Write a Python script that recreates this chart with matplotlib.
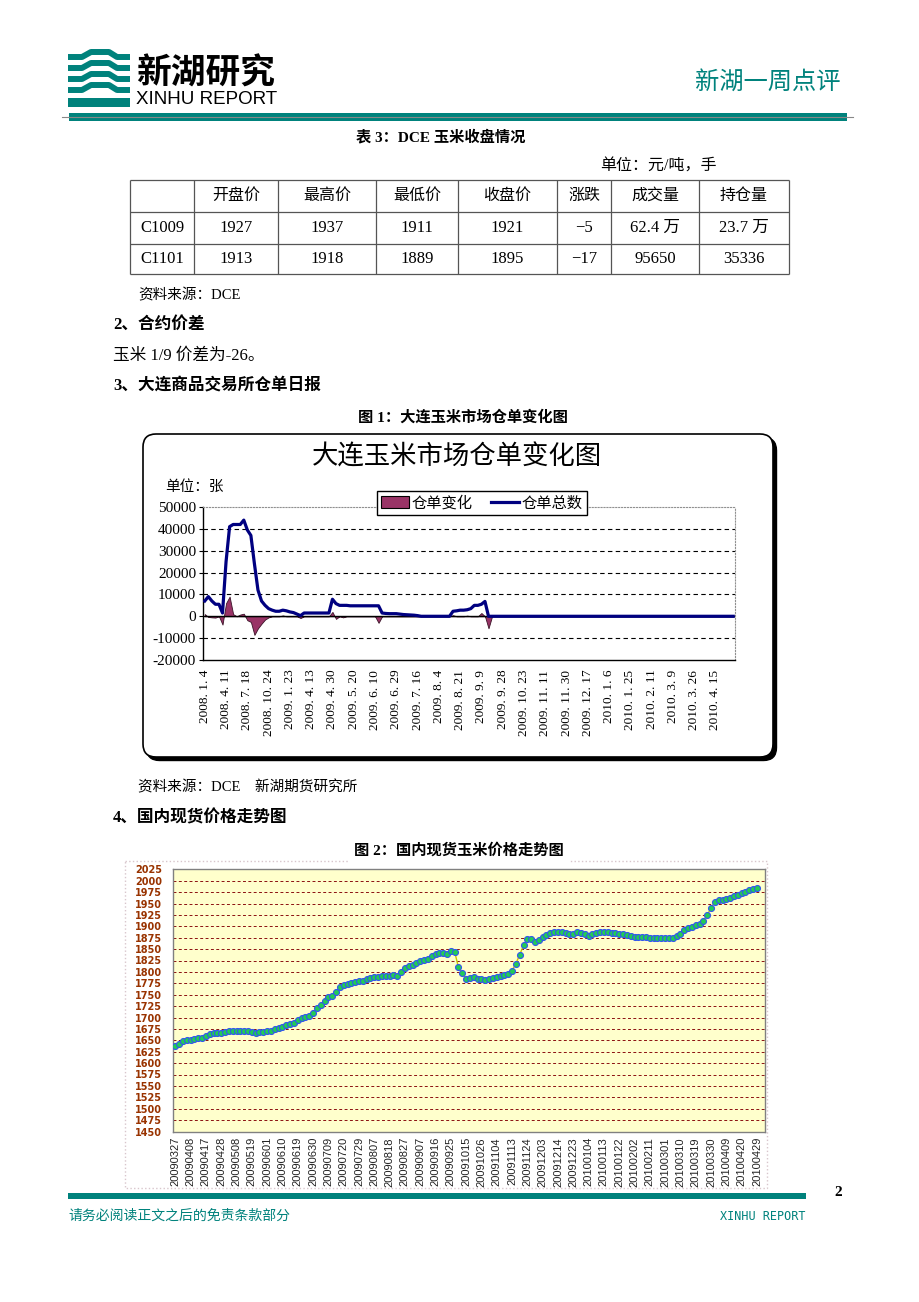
import numpy as np
import matplotlib
matplotlib.use("Agg")
import matplotlib.pyplot as plt
from matplotlib.patches import Rectangle, FancyBboxPatch, Patch
from matplotlib.lines import Line2D

plt.rcParams['font.family'] = ['Liberation Serif', 'Noto Sans CJK SC', 'DejaVu Sans']
plt.rcParams['axes.unicode_minus'] = False

TEAL = '#00827c'

# 表3 DCE 玉米收盘情况
table_header = ["开盘价", "最高价", "最低价", "收盘价", "涨跌", "成交量", "持仓量"]
table_names = ["C1009", "C1101"]
table_c1009 = ["1927", "1937", "1911", "1921", "−5", "62.4 万", "23.7 万"]
table_c1101 = ["1913", "1918", "1889", "1895", "−17", "95650", "35336"]

# 图1 大连玉米仓单 (每个刻度标签间隔 6 个点)
receipt_dates = ["2008. 1. 4", "2008. 4. 11", "2008. 7. 18", "2008. 10. 24", "2009. 1. 23",
                 "2009. 4. 13", "2009. 4. 30", "2009. 5. 20", "2009. 6. 10", "2009. 6. 29",
                 "2009. 7. 16", "2009. 8. 4", "2009. 8. 21", "2009. 9. 9", "2009. 9. 28",
                 "2009. 10. 23", "2009. 11. 11", "2009. 11. 30", "2009. 12. 17", "2010. 1. 6",
                 "2010. 1. 25", "2010. 2. 11", "2010. 3. 9", "2010. 3. 26", "2010. 4. 15"]
receipt_total = [
    7000, 9000, 7000, 5500, 5500, 1500, 25000, 41000, 42000, 42000,
    42000, 44000, 39500, 37000, 24000, 12000, 7000, 5000, 3500, 2800,
    2300, 2300, 2800, 2500, 2000, 1700, 1000, 300, 1500, 1500,
    1500, 1500, 1500, 1500, 1500, 1500, 7800, 5800, 5000, 5000,
    5000, 4800, 4800, 4800, 4800, 4800, 4800, 4800, 4800, 4800,
    1500, 1300, 1200, 1200, 1200, 1000, 800, 700, 600, 500,
    300, 0, 0, 0, 0, 0, 0, 0, 0, 0,
    2300, 2500, 2800, 2800, 3000, 3500, 5000, 5000, 5500, 6800,
    0, 0, 0, 0, 0, 0, 0, 0, 0, 0,
    0, 0, 0, 0, 0, 0, 0, 0, 0, 0,
    0, 0, 0, 0, 0, 0, 0, 0, 0, 0,
    0, 0, 0, 0, 0, 0, 0, 0, 0, 0,
    0, 0, 0, 0, 0, 0, 0, 0, 0, 0,
    0, 0, 0, 0, 0, 0, 0, 0, 0, 0,
    0, 0, 0, 0, 0, 0, 0, 0, 0, 0,
]
receipt_change = [
    1000, -300, -500, -600, 0, -3800, 6000, 9000, 1000, 0,
    800, 1200, -1800, -2600, -8500, -5500, -3400, -1500, -500, 0,
    0, 0, 400, 0, 0, 0, 0, -800, 0, 0,
    0, 0, 0, 0, 0, 0, 2000, -1200, 0, -500,
    0, 0, 0, 0, 0, 0, 0, 0, 0, -3000,
    0, 0, 0, 0, 0, 0, 0, 0, 0, 0,
    0, 0, 0, 0, 0, 0, 0, 0, 0, 0,
    500, 0, 0, 0, 300, 0, 0, 0, 1500, 0,
    -5500, 0, 0, 0, 0, 0, 0, 0, 0, 0,
    0, 0, 0, 0, 0, 0, 0, 0, 0, 0,
    0, 0, 0, 0, 0, 0, 0, 0, 0, 0,
    0, 0, 0, 0, 0, 0, 0, 0, 0, 0,
    0, 0, 0, 0, 0, 0, 0, 0, 0, 0,
    0, 0, 0, 0, 0, 0, 0, 0, 0, 0,
    0, 0, 0, 0, 0, 0, 0, 0, 0, 0,
]

# 图2 国内现货玉米价格 (每个刻度标签间隔 4 个点)
spot_dates = ["20090327", "20090408", "20090417", "20090428", "20090508", "20090519",
              "20090601", "20090610", "20090619", "20090630", "20090709", "20090720",
              "20090729", "20090807", "20090818", "20090827", "20090907", "20090916",
              "20090925", "20091015", "20091026", "20091104", "20091113", "20091124",
              "20091203", "20091214", "20091223", "20100104", "20100113", "20100122",
              "20100202", "20100211", "20100301", "20100310", "20100319", "20100330",
              "20100409", "20100420", "20100429"]
spot_price = [
    1637, 1641, 1648, 1650, 1651, 1653, 1654, 1656, 1660, 1664,
    1665, 1666, 1667, 1668, 1670, 1671, 1671, 1670, 1671, 1670,
    1668, 1667, 1668, 1669, 1670, 1671, 1675, 1678, 1680, 1683,
    1686, 1689, 1694, 1698, 1702, 1703, 1710, 1720, 1728, 1737,
    1744, 1747, 1757, 1766, 1771, 1773, 1775, 1777, 1779, 1781,
    1784, 1786, 1788, 1789, 1790, 1791, 1792, 1793, 1792, 1799,
    1808, 1813, 1815, 1820, 1824, 1826, 1828, 1834, 1840, 1842,
    1842, 1839, 1846, 1844, 1810, 1797, 1785, 1786, 1789, 1784,
    1784, 1783, 1784, 1786, 1789, 1791, 1793, 1796, 1803, 1818,
    1838, 1858, 1872, 1872, 1866, 1870, 1877, 1881, 1885, 1887,
    1888, 1888, 1886, 1883, 1884, 1887, 1886, 1884, 1879, 1883,
    1886, 1887, 1888, 1887, 1886, 1885, 1883, 1883, 1882, 1878,
    1876, 1876, 1876, 1876, 1875, 1875, 1874, 1874, 1874, 1874,
    1875, 1879, 1884, 1891, 1896, 1899, 1902, 1905, 1912, 1925,
    1940, 1954, 1957, 1958, 1960, 1962, 1966, 1969, 1973, 1976,
    1979, 1982, 1984,
]

W, H = 920, 1302
fig = plt.figure(figsize=(W / 100, H / 100), dpi=100)
fig.patch.set_facecolor('white')

# 整页用像素坐标
page = fig.add_axes([0, 0, 1, 1], zorder=0)
page.set_xlim(0, W)
page.set_ylim(H, 0)
page.axis('off')


def box(l, t, r, b):
    return [l / W, 1 - b / H, (r - l) / W, (b - t) / H]


# ---- 页眉 ----
for y0 in (57, 68, 79, 90):
    page.plot([68, 82, 91, 109, 117, 130], [y0, y0, y0 - 5, y0 - 5, y0, y0],
              color=TEAL, lw=4.3, solid_capstyle='butt', solid_joinstyle='round')
page.add_patch(Rectangle((68, 98), 62, 9, color=TEAL, lw=0))
page.text(136, 73, "新湖研究", fontsize=25, fontweight='bold', family='Noto Sans CJK SC',
          ha='left', va='center', color='black')
page.text(136, 100, "XINHU REPORT", fontsize=13.5, family='Liberation Sans',
          ha='left', va='center', color='black')
page.text(841, 82, "新湖一周点评", fontsize=17.5, family='Noto Sans CJK SC',
          ha='right', va='center', color=TEAL)
page.plot([62, 853], [117, 117], color='#888888', lw=0.8)
page.add_patch(Rectangle((69, 113), 778, 8, color=TEAL, lw=0))

# ---- 表3 ----
page.text(441, 137, "表 3：DCE 玉米收盘情况", fontsize=11, fontweight='bold', ha='center', va='center')
page.text(600, 167, "单位：元/吨，手", fontsize=11.5, ha='left', va='center')
col_edges = [130, 194, 278, 376, 458, 557, 611, 699, 789]
row_edges = [180, 212, 244, 274]
page.hlines(row_edges, col_edges[0], col_edges[-1], color='#555555', lw=0.9)
page.vlines(col_edges, row_edges[0], row_edges[-1], color='#555555', lw=0.9)
row_mid = [(row_edges[i] + row_edges[i + 1]) / 2 for i in range(3)]
col_mid = [(col_edges[i] + col_edges[i + 1]) / 2 for i in range(8)]
for j, h in enumerate(table_header):
    page.text(col_mid[j + 1], row_mid[0], h, fontsize=11.5, ha='center', va='center')
for i, (name, vals) in enumerate(zip(table_names, [table_c1009, table_c1101])):
    page.text(col_mid[0], row_mid[i + 1], name, fontsize=12, ha='center', va='center')
    for j, v in enumerate(vals):
        page.text(col_mid[j + 1], row_mid[i + 1], v, fontsize=12, ha='center', va='center')
page.text(138, 295, "资料来源：DCE", fontsize=10.5, ha='left', va='center')

# ---- 正文 ----
page.text(113, 325, "2、合约价差", fontsize=12, fontweight='bold', ha='left', va='center')
page.text(113, 356, "玉米 1/9 价差为-26。", fontsize=12, ha='left', va='center')
page.text(113, 386, "3、大连商品交易所仓单日报", fontsize=12, fontweight='bold', ha='left', va='center')
page.text(463, 417, "图 1：大连玉米市场仓单变化图", fontsize=11, fontweight='bold', ha='center', va='center')

# ---- 图1 ----
page.add_patch(FancyBboxPatch((146.5, 437.5), 630, 323, boxstyle="round,pad=0,rounding_size=13",
                              fc='black', ec='black', lw=1))
page.add_patch(FancyBboxPatch((143, 434), 630, 323, boxstyle="round,pad=0,rounding_size=13",
                              fc='white', ec='black', lw=1.2))
page.text(457, 457, "大连玉米市场仓单变化图", fontsize=19, family='Noto Sans CJK SC',
          fontweight='medium', ha='center', va='center')
page.text(165, 487, "单位：张", fontsize=10.5, ha='left', va='center')

ax1 = fig.add_axes(box(203, 507, 735, 660), zorder=2)
ax1.set_facecolor('white')
idx1 = np.arange(len(receipt_total))
ax1.fill_between(idx1, 0, receipt_change, facecolor='#993366', edgecolor='#3a1428', lw=0.6, zorder=2)
ax1.plot(idx1, receipt_total, color='#000080', lw=2.3, zorder=4)
ax1.set_xlim(-0.5, len(idx1) - 0.5)
ax1.set_ylim(-20000, 50000)
ax1.set_yticks(np.arange(-20000, 50001, 10000))
for v in (-10000, 10000, 20000, 30000, 40000):
    ax1.axhline(v, color='black', lw=0.8, ls=(0, (4, 3)), zorder=1)
ax1.axhline(0, color='black', lw=1.0, zorder=3)
ax1.set_xticks(idx1[::6])
ax1.set_xticklabels(receipt_dates, rotation=90, fontsize=9.5)
ax1.tick_params(axis='x', length=0, pad=7)
ax1.tick_params(axis='y', length=3, labelsize=11, pad=2)
for s in ('top', 'right'):
    ax1.spines[s].set_color('#909090')
    ax1.spines[s].set_linestyle(':')
for s in ('left', 'bottom'):
    ax1.spines[s].set_color('black')
    ax1.spines[s].set_linewidth(1.0)

fig.legend(handles=[Patch(facecolor='#993366', edgecolor='black', lw=0.8),
                    Line2D([], [], color='#000080', lw=2.3)],
           labels=["仓单变化", "仓单总数"], loc='center',
           bbox_to_anchor=(482 / W, 1 - 503 / H), ncol=2, fontsize=11,
           frameon=True, fancybox=False, edgecolor='black', framealpha=1,
           handlelength=1.8, handleheight=0.8, columnspacing=1.2,
           borderpad=0.3, handletextpad=0.2)

page.text(138, 787, "资料来源：DCE　新湖期货研究所", fontsize=10.5, ha='left', va='center')
page.text(113, 818, "4、国内现货价格走势图", fontsize=12, fontweight='bold', ha='left', va='center')

# ---- 图2 ----
page.add_patch(Rectangle((125, 861), 642, 327, fill=False, ec='#d8c6cc', ls=':', lw=1.0))
page.text(459, 850, "图 2：国内现货玉米价格走势图", fontsize=11, fontweight='bold', ha='center', va='center',
          bbox=dict(fc='white', ec='none', pad=4))

ax2 = fig.add_axes(box(173, 869.3, 765, 1131.5), zorder=2)
ax2.set_facecolor('#FFFFCC')
idx2 = np.arange(len(spot_price))
for v in np.arange(1475, 2001, 25):
    ax2.axhline(v, color='#8B1010', lw=0.7, ls=(0, (3, 2.5)), zorder=1)
ax2.plot(idx2, spot_price, color='#C8C800', lw=1.0, marker='o', ms=4.3,
         mfc='#22CC55', mec='#3355EE', mew=0.8, zorder=3)
ax2.set_xlim(-0.6, 154.1)
ax2.set_ylim(1450, 2025)
ax2.set_yticks(np.arange(1450, 2026, 25))
ax2.set_xticks(idx2[::4])
ax2.set_xticklabels(spot_dates, rotation=90, fontsize=8, family='Liberation Sans', color='#222222')
for lbl in ax2.get_yticklabels():
    lbl.set_fontweight('bold')
    lbl.set_family('DejaVu Sans')
    lbl.set_fontsize(7)
ax2.tick_params(axis='y', length=0, pad=8, labelcolor='#993300')
ax2.tick_params(axis='x', length=0, pad=4)
for s in ax2.spines.values():
    s.set_color('#808080')
    s.set_linewidth(1.0)

# ---- 页脚 ----
page.add_patch(Rectangle((68, 1193), 738, 6, color=TEAL, lw=0))
page.text(838, 1192, "2", fontsize=11, fontweight='bold', ha='center', va='center')
page.text(68, 1216, "请务必阅读正文之后的免责条款部分", fontsize=10, color=TEAL, ha='left', va='center')
page.text(806, 1216, "XINHU REPORT", fontsize=8.5, family='DejaVu Sans Mono', color=TEAL,
          ha='right', va='center')

fig.savefig("out.png", dpi=100, facecolor='white')
